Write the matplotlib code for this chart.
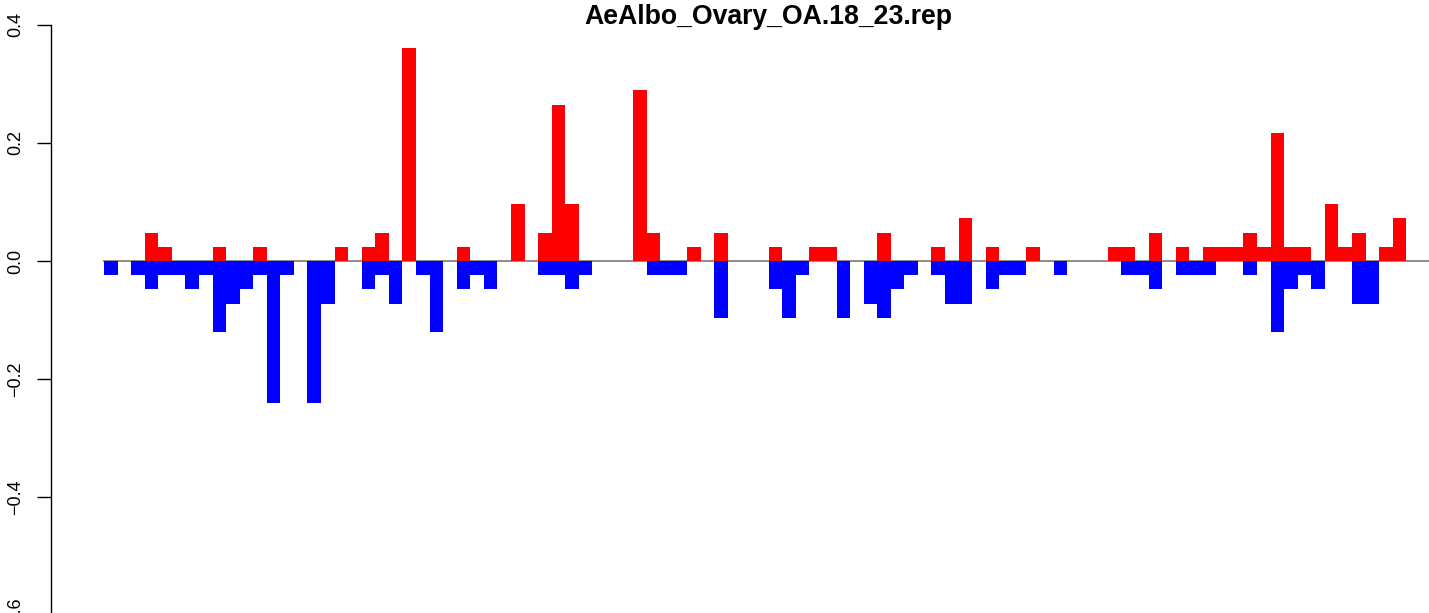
import matplotlib
matplotlib.use("Agg")
import matplotlib.pyplot as plt
import numpy as np

title = "AeAlbo_Ovary_OA.18_23.rep"

# positive (red) series, one value per bar
red_values = [
    0, 0, 0, 0.0482, 0.0241, 0, 0, 0, 0.0241, 0,
    0, 0.0241, 0, 0, 0, 0, 0, 0.0241, 0, 0.0241,
    0.0482, 0, 0.3615, 0, 0, 0, 0.0241, 0, 0, 0,
    0.0964, 0, 0.0482, 0.2651, 0.0964, 0, 0, 0, 0, 0.2892,
    0.0482, 0, 0, 0.0241, 0, 0.0482, 0, 0, 0, 0.0241,
    0, 0, 0.0241, 0.0241, 0, 0, 0, 0.0482, 0, 0,
    0, 0.0241, 0, 0.0723, 0, 0.0241, 0, 0, 0.0241, 0,
    0, 0, 0, 0, 0.0241, 0.0241, 0, 0.0482, 0, 0.0241,
    0, 0.0241, 0.0241, 0.0241, 0.0482, 0.0241, 0.2169, 0.0241, 0.0241, 0,
    0.0964, 0.0241, 0.0482, 0, 0.0241, 0.0723,
]

# negative (blue) series, one value per bar
blue_values = [
    -0.0241, 0, -0.0241, -0.0482, -0.0241, -0.0241, -0.0482, -0.0241, -0.1205, -0.0723,
    -0.0482, -0.0241, -0.2410, -0.0241, 0, -0.2410, -0.0723, 0, 0, -0.0482,
    -0.0241, -0.0723, 0, -0.0241, -0.1205, 0, -0.0482, -0.0241, -0.0482, 0,
    0, 0, -0.0241, -0.0241, -0.0482, -0.0241, 0, 0, 0, 0,
    -0.0241, -0.0241, -0.0241, 0, 0, -0.0964, 0, 0, 0, -0.0482,
    -0.0964, -0.0241, 0, 0, -0.0964, 0, -0.0723, -0.0964, -0.0482, -0.0241,
    0, -0.0241, -0.0723, -0.0723, 0, -0.0482, -0.0241, -0.0241, 0, 0,
    -0.0241, 0, 0, 0, 0, -0.0241, -0.0241, -0.0482, 0, -0.0241,
    -0.0241, -0.0241, 0, 0, -0.0241, 0, -0.1205, -0.0482, -0.0241, -0.0482,
    0, 0, -0.0723, -0.0723, 0, 0,
]

y_ticks = [-0.6, -0.4, -0.2, 0.0, 0.2, 0.4]
y_tick_labels = ["\u22120.6", "\u22120.4", "\u22120.2", "0.0", "0.2", "0.4"]

W, H = 1429, 613
fig = plt.figure(figsize=(W / 100, H / 100), dpi=100)

# pixel geometry
axis_x = 50.5
bar0_left = 104.0
bar_w = 13.565
zero_px = 261.0
px_per_unit = 590.0

ymax = zero_px / px_per_unit
ymin = -0.6
bottom_px = zero_px + 0.6 * px_per_unit  # pixel of -0.6
ax = fig.add_axes([axis_x / W, (H - bottom_px) / H, (W - axis_x) / W, bottom_px / H])

xmin = (axis_x - bar0_left) / bar_w
xmax = (W - bar0_left) / bar_w
ax.set_xlim(xmin, xmax)
ax.set_ylim(ymin, ymax)

x = np.arange(len(red_values))
ax.plot([-0.05, xmax], [0, 0], color="#8c8c8c", lw=1.4, zorder=1, solid_capstyle="butt")
ax.bar(x, red_values, width=1.0, align="edge", color="#ff0000", linewidth=0, zorder=2)
ax.bar(x, blue_values, width=1.0, align="edge", color="#0000ff", linewidth=0, zorder=2)

for s in ["top", "right", "bottom"]:
    ax.spines[s].set_visible(False)
ax.spines["left"].set_bounds(-0.6, 0.4)
ax.spines["left"].set_linewidth(1.0)
ax.set_xticks([])
ax.set_yticks(y_ticks)
ax.set_yticklabels(y_tick_labels, rotation=90, va="center",
                   fontfamily="Liberation Sans", fontsize=13)
ax.tick_params(axis="y", length=10, width=1.0, pad=9)

fig.text(768 / W, 1 - 23.5 / H, title, ha="center", va="baseline",
         fontfamily="Liberation Sans", fontweight="bold", fontsize=19.2)

fig.savefig("out.png", dpi=100)
